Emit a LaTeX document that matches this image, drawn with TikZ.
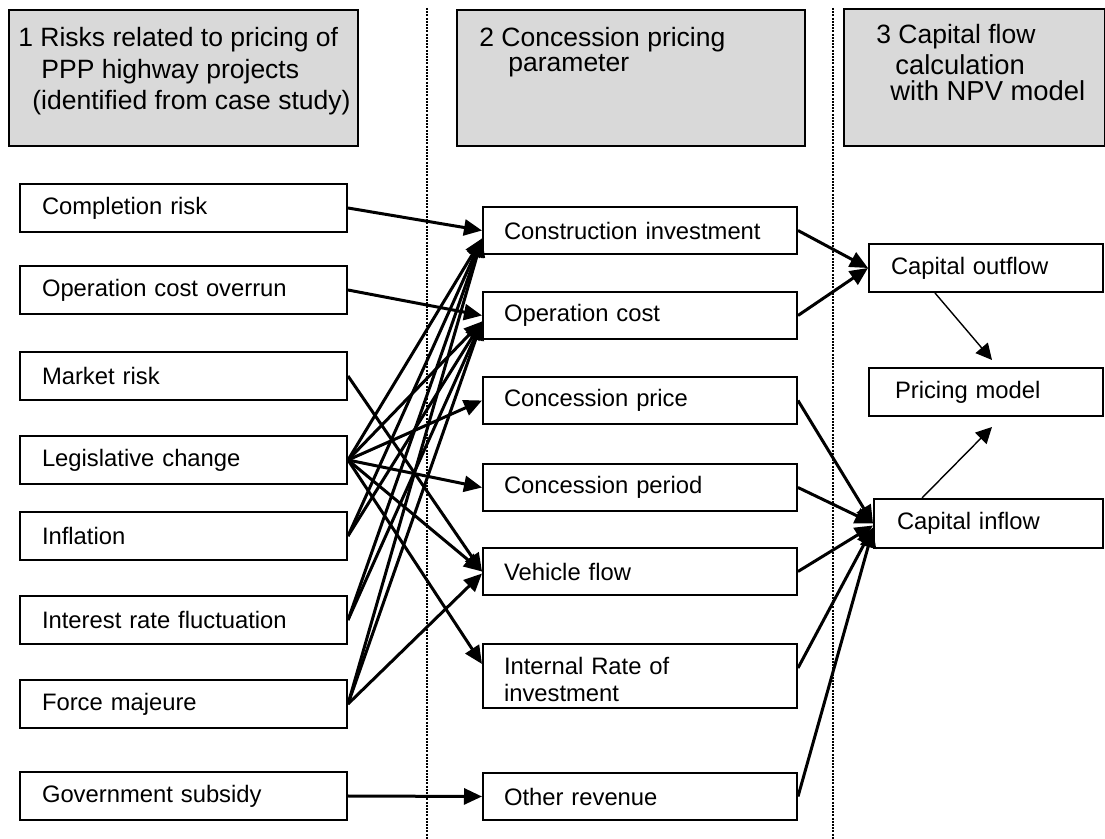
\documentclass[tikz,border=0pt]{standalone}
\usepackage{fontspec}
\setmainfont{Liberation Sans}
\usetikzlibrary{arrows.meta,calc}
\definecolor{hdrgray}{RGB}{217,217,217}
\begin{document}
\begin{tikzpicture}[x=0.5pt,y=-0.5pt,
 box/.style={draw=black, line width=1pt, fill=white, anchor=north west, align=left, inner ysep=0pt, font=\fontsize{11.9}{14}\selectfont},
 lbox/.style={box, minimum height=24pt, inner xsep=11pt, text width=141.5pt},
 mbox/.style={box, minimum height=23.5pt, inner xsep=10.5pt, text width=136pt},
 hbox/.style={draw=black, line width=1pt, fill=hdrgray, anchor=north west, inner sep=0pt},
 htext/.style={anchor=base west, inner sep=0pt, font=\fontsize{13.25}{15}\selectfont},
 sepline/.style={line width=1pt, dash pattern=on 1pt off 0.6pt},
 arr/.style={line width=1.5pt, -{Triangle[length=9pt,width=8pt]}},
 thinarr/.style={line width=0.7pt, -{Triangle[length=8pt,width=8pt]}}
]
\fill[white] (0,0) rectangle (1105,839);
\useasboundingbox (0,0) rectangle (1105,839);

% separators
\coordinate (d1t) at (427,8);
\coordinate (d1b) at (427,839);
\coordinate (d2t) at (833,8);
\coordinate (d2b) at (833,839);
\draw[sepline] (d1t) -- (d1b);
\draw[sepline] (d2t) -- (d2b);

% headers
\node[hbox, minimum width=174.5pt, minimum height=68pt] (h1) at (8,9) {};
\node[htext] (h1a) at (18,46.7) {1 Risks related to pricing of};
\node[htext] (h1b) at (41,78.3) {PPP highway projects};
\node[htext] (h1c) at (32,110) {(identified from case study)};

\node[hbox, minimum width=174pt, minimum height=68pt] (h2) at (456,9) {};
\node[htext] (h2a) at (479,46.7) {2 Concession pricing};
\node[htext] (h2b) at (508,71.7) {parameter};

\node[hbox, minimum width=130.5pt, minimum height=68.5pt] (h3) at (843,8) {};
\node[htext] (h3a) at (876,43.3) {3 Capital flow};
\node[htext, font=\fontsize{13.7}{16}\selectfont] (h3b) at (895,75) {calculation};
\node[htext, font=\fontsize{13.7}{16}\selectfont] (h3c) at (890,101) {with NPV model};

% left column
\node[lbox] (complete) at (19,183) {Completion risk};
\node[lbox] (opover) at (19,265) {Operation cost overrun};
\node[lbox] (market) at (19,351) {Market risk};
\node[lbox] (legis) at (19,435) {Legislative change};
\node[lbox] (infl) at (19,511) {Inflation};
\node[lbox] (interest) at (19,595) {Interest rate fluctuation};
\node[lbox] (force) at (19,679) {Force majeure};
\node[lbox] (gov) at (19,771) {Government subsidy};

% middle column
\node[mbox] (cons) at (482,206) {Construction investment};
\node[mbox] (opcost) at (482,291) {Operation cost};
\node[mbox] (cprice) at (482,376) {Concession price};
\node[mbox] (cperiod) at (482,463) {Concession period};
\node[mbox] (vehicle) at (482,547) {Vehicle flow};
\node[mbox, minimum height=32pt, font=\fontsize{11.9}{13.5}\selectfont] (irr) at (482,643) {\rule{0pt}{12pt}Internal Rate of\\investment};
\node[mbox] (other) at (482,772) {Other revenue};

% right column
\node[box, minimum height=24pt, inner xsep=11pt, text width=95pt] (outflow) at (868,243) {Capital outflow};
\node[box, minimum height=24pt, inner xsep=13pt, text width=91pt] (pricing) at (868,367) {Pricing model};
\node[box, minimum height=24.5pt, inner xsep=11.5pt, text width=91.5pt] (inflow) at (873,498) {Capital inflow};

% risks -> parameters
\draw[arr] (complete.east) -- (cons.west);
\draw[arr] (opover.east) -- (opcost.west);
\draw[arr] (market.east) -- (vehicle.west);
\draw[arr] (legis.east) -- ([yshift=-4pt]cons.west);
\draw[arr] (legis.east) -- ([yshift=-3pt]opcost.west);
\draw[arr] (legis.east) -- (cprice.west);
\draw[arr] (legis.east) -- (cperiod.west);
\draw[arr] (legis.east) -- (vehicle.west);
\draw[arr] (legis.east) -- ([yshift=6pt]irr.west);
\draw[arr] (infl.east) -- ([yshift=-4pt]cons.west);
\draw[arr] (infl.east) -- ([yshift=-3pt]opcost.west);
\draw[arr] (interest.east) -- ([yshift=-4pt]cons.west);
\draw[arr] (interest.east) -- ([yshift=-3pt]opcost.west);
\draw[arr] (force.east) -- ([yshift=-4pt]cons.west);
\draw[arr] (force.east) -- ([yshift=-3pt]opcost.west);
\draw[arr] (force.east) -- ([yshift=-1pt]vehicle.west);
\draw[arr] (gov.east) -- (other.west);

% parameters -> capital flows
\draw[arr] (cons.east) -- (outflow.west);
\draw[arr] (opcost.east) -- (outflow.west);
\draw[arr] (cprice.east) -- (inflow.west);
\draw[arr] (cperiod.east) -- (inflow.west);
\draw[arr] (vehicle.east) -- ([yshift=-1pt]inflow.west);
\draw[arr] ([yshift=4pt]irr.east) -- ([yshift=-2pt]inflow.west);
\draw[arr] (other.east) -- ([yshift=-3pt]inflow.west);

% capital flows -> pricing model
\draw[thinarr] ($(outflow.south west)+(67,0)$) -- ($(pricing.north west)+(124,-7)$);
\draw[thinarr] ($(inflow.north west)+(49,0)$) -- ($(pricing.south west)+(124,10)$);
\end{tikzpicture}
\end{document}
